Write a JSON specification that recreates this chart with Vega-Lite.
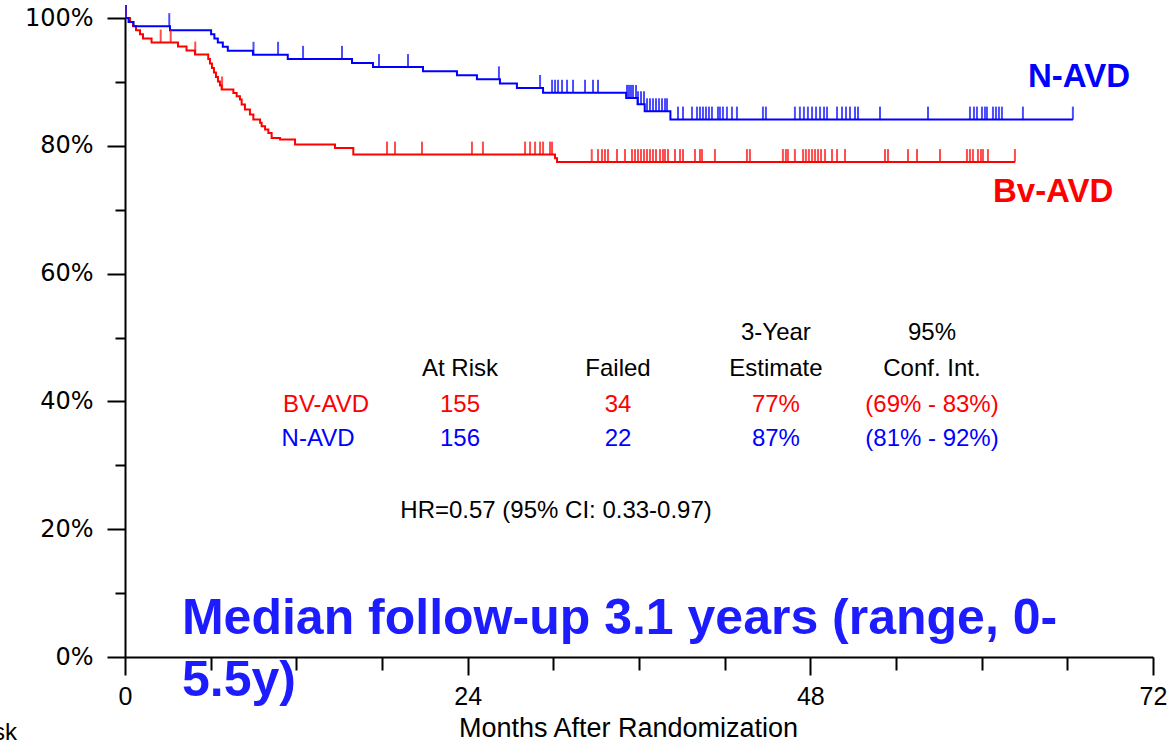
{
  "$schema": "https://vega.github.io/schema/vega-lite/v6.json",
  "width": 1028,
  "height": 639,
  "autosize": {"type": "none"},
  "padding": {"left": 125, "top": 18, "right": 15, "bottom": 98},
  "background": "white",
  "config": {"view": {"stroke": null}, "font": "Liberation Sans"},
  "datasets": {
    "km": [
      {"grp": "BV-AVD", "month": 0, "surv": 1.0},
      {"grp": "BV-AVD", "month": 0.35, "surv": 0.9937},
      {"grp": "BV-AVD", "month": 0.56, "surv": 0.9873},
      {"grp": "BV-AVD", "month": 0.77, "surv": 0.9809},
      {"grp": "BV-AVD", "month": 1.05, "surv": 0.9745},
      {"grp": "BV-AVD", "month": 1.26, "surv": 0.9681},
      {"grp": "BV-AVD", "month": 1.86, "surv": 0.9616},
      {"grp": "BV-AVD", "month": 3.71, "surv": 0.9554},
      {"grp": "BV-AVD", "month": 4.31, "surv": 0.9491},
      {"grp": "BV-AVD", "month": 4.9, "surv": 0.9428},
      {"grp": "BV-AVD", "month": 5.83, "surv": 0.9358},
      {"grp": "BV-AVD", "month": 5.95, "surv": 0.9287},
      {"grp": "BV-AVD", "month": 6.09, "surv": 0.9217},
      {"grp": "BV-AVD", "month": 6.23, "surv": 0.9146},
      {"grp": "BV-AVD", "month": 6.37, "surv": 0.9076},
      {"grp": "BV-AVD", "month": 6.51, "surv": 0.9005},
      {"grp": "BV-AVD", "month": 6.65, "surv": 0.8943},
      {"grp": "BV-AVD", "month": 6.77, "surv": 0.888},
      {"grp": "BV-AVD", "month": 7.59, "surv": 0.8828},
      {"grp": "BV-AVD", "month": 7.82, "surv": 0.8775},
      {"grp": "BV-AVD", "month": 8.05, "surv": 0.8724},
      {"grp": "BV-AVD", "month": 8.17, "surv": 0.8645},
      {"grp": "BV-AVD", "month": 8.4, "surv": 0.8567},
      {"grp": "BV-AVD", "month": 8.75, "surv": 0.8489},
      {"grp": "BV-AVD", "month": 8.99, "surv": 0.841},
      {"grp": "BV-AVD", "month": 9.46, "surv": 0.8359},
      {"grp": "BV-AVD", "month": 9.57, "surv": 0.8305},
      {"grp": "BV-AVD", "month": 9.81, "surv": 0.8254},
      {"grp": "BV-AVD", "month": 10.04, "surv": 0.8202},
      {"grp": "BV-AVD", "month": 10.27, "surv": 0.8124},
      {"grp": "BV-AVD", "month": 10.86, "surv": 0.8097},
      {"grp": "BV-AVD", "month": 11.91, "surv": 0.8019},
      {"grp": "BV-AVD", "month": 14.71, "surv": 0.7967},
      {"grp": "BV-AVD", "month": 15.99, "surv": 0.7862},
      {"grp": "BV-AVD", "month": 30.12, "surv": 0.7807},
      {"grp": "BV-AVD", "month": 30.26, "surv": 0.7745},
      {"grp": "BV-AVD", "month": 62.33, "surv": 0.7745},
      {"grp": "N-AVD", "month": 0, "surv": 1.0},
      {"grp": "N-AVD", "month": 0.25, "surv": 0.9936},
      {"grp": "N-AVD", "month": 0.6, "surv": 0.9872},
      {"grp": "N-AVD", "month": 3.15, "surv": 0.9808},
      {"grp": "N-AVD", "month": 6.03, "surv": 0.9744},
      {"grp": "N-AVD", "month": 6.26, "surv": 0.968},
      {"grp": "N-AVD", "month": 6.5, "surv": 0.9616},
      {"grp": "N-AVD", "month": 6.85, "surv": 0.9552},
      {"grp": "N-AVD", "month": 7.2, "surv": 0.9488},
      {"grp": "N-AVD", "month": 8.96, "surv": 0.9424},
      {"grp": "N-AVD", "month": 11.4, "surv": 0.936},
      {"grp": "N-AVD", "month": 15.9, "surv": 0.9296},
      {"grp": "N-AVD", "month": 17.37, "surv": 0.9232},
      {"grp": "N-AVD", "month": 20.87, "surv": 0.9168},
      {"grp": "N-AVD", "month": 23.25, "surv": 0.9104},
      {"grp": "N-AVD", "month": 24.65, "surv": 0.904},
      {"grp": "N-AVD", "month": 26.26, "surv": 0.8976},
      {"grp": "N-AVD", "month": 27.45, "surv": 0.8905},
      {"grp": "N-AVD", "month": 29.28, "surv": 0.883},
      {"grp": "N-AVD", "month": 35.1, "surv": 0.875},
      {"grp": "N-AVD", "month": 35.9, "surv": 0.865},
      {"grp": "N-AVD", "month": 36.4, "surv": 0.854},
      {"grp": "N-AVD", "month": 38.2, "surv": 0.841},
      {"grp": "N-AVD", "month": 66.39, "surv": 0.841}
    ],
    "cens": [
      {"grp": "BV-AVD", "month": 0.07, "surv": 1.0},
      {"grp": "BV-AVD", "month": 2.5, "surv": 0.9616},
      {"grp": "BV-AVD", "month": 3.2, "surv": 0.9616},
      {"grp": "BV-AVD", "month": 4.92, "surv": 0.9428},
      {"grp": "BV-AVD", "month": 6.8, "surv": 0.888},
      {"grp": "BV-AVD", "month": 18.35, "surv": 0.7862},
      {"grp": "BV-AVD", "month": 18.91, "surv": 0.7862},
      {"grp": "BV-AVD", "month": 20.8, "surv": 0.7862},
      {"grp": "BV-AVD", "month": 24.3, "surv": 0.7862},
      {"grp": "BV-AVD", "month": 25.07, "surv": 0.7862},
      {"grp": "BV-AVD", "month": 28.02, "surv": 0.7862},
      {"grp": "BV-AVD", "month": 28.37, "surv": 0.7862},
      {"grp": "BV-AVD", "month": 28.72, "surv": 0.7862},
      {"grp": "BV-AVD", "month": 29.07, "surv": 0.7862},
      {"grp": "BV-AVD", "month": 29.28, "surv": 0.7862},
      {"grp": "BV-AVD", "month": 29.77, "surv": 0.7862},
      {"grp": "BV-AVD", "month": 29.91, "surv": 0.7862},
      {"grp": "BV-AVD", "month": 32.69, "surv": 0.7745},
      {"grp": "BV-AVD", "month": 33.13, "surv": 0.7745},
      {"grp": "BV-AVD", "month": 33.41, "surv": 0.7745},
      {"grp": "BV-AVD", "month": 33.62, "surv": 0.7745},
      {"grp": "BV-AVD", "month": 33.83, "surv": 0.7745},
      {"grp": "BV-AVD", "month": 34.46, "surv": 0.7745},
      {"grp": "BV-AVD", "month": 35.02, "surv": 0.7745},
      {"grp": "BV-AVD", "month": 35.51, "surv": 0.7745},
      {"grp": "BV-AVD", "month": 35.72, "surv": 0.7745},
      {"grp": "BV-AVD", "month": 35.93, "surv": 0.7745},
      {"grp": "BV-AVD", "month": 36.14, "surv": 0.7745},
      {"grp": "BV-AVD", "month": 36.35, "surv": 0.7745},
      {"grp": "BV-AVD", "month": 36.56, "surv": 0.7745},
      {"grp": "BV-AVD", "month": 36.77, "surv": 0.7745},
      {"grp": "BV-AVD", "month": 36.98, "surv": 0.7745},
      {"grp": "BV-AVD", "month": 37.19, "surv": 0.7745},
      {"grp": "BV-AVD", "month": 37.47, "surv": 0.7745},
      {"grp": "BV-AVD", "month": 37.68, "surv": 0.7745},
      {"grp": "BV-AVD", "month": 37.82, "surv": 0.7745},
      {"grp": "BV-AVD", "month": 38.03, "surv": 0.7745},
      {"grp": "BV-AVD", "month": 38.52, "surv": 0.7745},
      {"grp": "BV-AVD", "month": 38.87, "surv": 0.7745},
      {"grp": "BV-AVD", "month": 39.08, "surv": 0.7745},
      {"grp": "BV-AVD", "month": 39.92, "surv": 0.7745},
      {"grp": "BV-AVD", "month": 40.27, "surv": 0.7745},
      {"grp": "BV-AVD", "month": 40.41, "surv": 0.7745},
      {"grp": "BV-AVD", "month": 41.32, "surv": 0.7745},
      {"grp": "BV-AVD", "month": 43.56, "surv": 0.7745},
      {"grp": "BV-AVD", "month": 43.77, "surv": 0.7745},
      {"grp": "BV-AVD", "month": 46.08, "surv": 0.7745},
      {"grp": "BV-AVD", "month": 46.29, "surv": 0.7745},
      {"grp": "BV-AVD", "month": 46.43, "surv": 0.7745},
      {"grp": "BV-AVD", "month": 46.92, "surv": 0.7745},
      {"grp": "BV-AVD", "month": 47.49, "surv": 0.7745},
      {"grp": "BV-AVD", "month": 47.69, "surv": 0.7745},
      {"grp": "BV-AVD", "month": 47.9, "surv": 0.7745},
      {"grp": "BV-AVD", "month": 48.12, "surv": 0.7745},
      {"grp": "BV-AVD", "month": 48.33, "surv": 0.7745},
      {"grp": "BV-AVD", "month": 48.54, "surv": 0.7745},
      {"grp": "BV-AVD", "month": 48.75, "surv": 0.7745},
      {"grp": "BV-AVD", "month": 49.03, "surv": 0.7745},
      {"grp": "BV-AVD", "month": 49.52, "surv": 0.7745},
      {"grp": "BV-AVD", "month": 49.87, "surv": 0.7745},
      {"grp": "BV-AVD", "month": 50.43, "surv": 0.7745},
      {"grp": "BV-AVD", "month": 53.23, "surv": 0.7745},
      {"grp": "BV-AVD", "month": 53.44, "surv": 0.7745},
      {"grp": "BV-AVD", "month": 54.84, "surv": 0.7745},
      {"grp": "BV-AVD", "month": 55.47, "surv": 0.7745},
      {"grp": "BV-AVD", "month": 57.08, "surv": 0.7745},
      {"grp": "BV-AVD", "month": 58.97, "surv": 0.7745},
      {"grp": "BV-AVD", "month": 59.18, "surv": 0.7745},
      {"grp": "BV-AVD", "month": 59.39, "surv": 0.7745},
      {"grp": "BV-AVD", "month": 59.74, "surv": 0.7745},
      {"grp": "BV-AVD", "month": 59.95, "surv": 0.7745},
      {"grp": "BV-AVD", "month": 60.09, "surv": 0.7745},
      {"grp": "BV-AVD", "month": 60.44, "surv": 0.7745},
      {"grp": "BV-AVD", "month": 62.33, "surv": 0.7745},
      {"grp": "N-AVD", "month": 0.07, "surv": 1.0},
      {"grp": "N-AVD", "month": 3.1, "surv": 0.9872},
      {"grp": "N-AVD", "month": 9.0, "surv": 0.9424},
      {"grp": "N-AVD", "month": 10.72, "surv": 0.9424},
      {"grp": "N-AVD", "month": 12.47, "surv": 0.936},
      {"grp": "N-AVD", "month": 15.2, "surv": 0.936},
      {"grp": "N-AVD", "month": 17.79, "surv": 0.9232},
      {"grp": "N-AVD", "month": 19.82, "surv": 0.9232},
      {"grp": "N-AVD", "month": 26.19, "surv": 0.904},
      {"grp": "N-AVD", "month": 29.07, "surv": 0.8905},
      {"grp": "N-AVD", "month": 29.91, "surv": 0.883},
      {"grp": "N-AVD", "month": 30.12, "surv": 0.883},
      {"grp": "N-AVD", "month": 30.33, "surv": 0.883},
      {"grp": "N-AVD", "month": 30.61, "surv": 0.883},
      {"grp": "N-AVD", "month": 30.96, "surv": 0.883},
      {"grp": "N-AVD", "month": 31.38, "surv": 0.883},
      {"grp": "N-AVD", "month": 32.22, "surv": 0.883},
      {"grp": "N-AVD", "month": 32.78, "surv": 0.883},
      {"grp": "N-AVD", "month": 33.13, "surv": 0.883},
      {"grp": "N-AVD", "month": 35.16, "surv": 0.875},
      {"grp": "N-AVD", "month": 35.3, "surv": 0.875},
      {"grp": "N-AVD", "month": 35.44, "surv": 0.875},
      {"grp": "N-AVD", "month": 35.58, "surv": 0.875},
      {"grp": "N-AVD", "month": 35.79, "surv": 0.875},
      {"grp": "N-AVD", "month": 35.93, "surv": 0.865},
      {"grp": "N-AVD", "month": 36.14, "surv": 0.865},
      {"grp": "N-AVD", "month": 36.35, "surv": 0.865},
      {"grp": "N-AVD", "month": 36.56, "surv": 0.854},
      {"grp": "N-AVD", "month": 36.77, "surv": 0.854},
      {"grp": "N-AVD", "month": 36.98, "surv": 0.854},
      {"grp": "N-AVD", "month": 37.19, "surv": 0.854},
      {"grp": "N-AVD", "month": 37.4, "surv": 0.854},
      {"grp": "N-AVD", "month": 37.61, "surv": 0.854},
      {"grp": "N-AVD", "month": 37.82, "surv": 0.854},
      {"grp": "N-AVD", "month": 37.96, "surv": 0.854},
      {"grp": "N-AVD", "month": 38.73, "surv": 0.841},
      {"grp": "N-AVD", "month": 39.08, "surv": 0.841},
      {"grp": "N-AVD", "month": 39.71, "surv": 0.841},
      {"grp": "N-AVD", "month": 40.06, "surv": 0.841},
      {"grp": "N-AVD", "month": 40.27, "surv": 0.841},
      {"grp": "N-AVD", "month": 40.48, "surv": 0.841},
      {"grp": "N-AVD", "month": 40.69, "surv": 0.841},
      {"grp": "N-AVD", "month": 40.9, "surv": 0.841},
      {"grp": "N-AVD", "month": 41.11, "surv": 0.841},
      {"grp": "N-AVD", "month": 41.53, "surv": 0.841},
      {"grp": "N-AVD", "month": 41.67, "surv": 0.841},
      {"grp": "N-AVD", "month": 41.88, "surv": 0.841},
      {"grp": "N-AVD", "month": 42.16, "surv": 0.841},
      {"grp": "N-AVD", "month": 42.51, "surv": 0.841},
      {"grp": "N-AVD", "month": 42.86, "surv": 0.841},
      {"grp": "N-AVD", "month": 44.68, "surv": 0.841},
      {"grp": "N-AVD", "month": 44.89, "surv": 0.841},
      {"grp": "N-AVD", "month": 46.92, "surv": 0.841},
      {"grp": "N-AVD", "month": 47.27, "surv": 0.841},
      {"grp": "N-AVD", "month": 47.55, "surv": 0.841},
      {"grp": "N-AVD", "month": 47.83, "surv": 0.841},
      {"grp": "N-AVD", "month": 48.12, "surv": 0.841},
      {"grp": "N-AVD", "month": 48.4, "surv": 0.841},
      {"grp": "N-AVD", "month": 48.68, "surv": 0.841},
      {"grp": "N-AVD", "month": 48.96, "surv": 0.841},
      {"grp": "N-AVD", "month": 49.17, "surv": 0.841},
      {"grp": "N-AVD", "month": 49.87, "surv": 0.841},
      {"grp": "N-AVD", "month": 50.22, "surv": 0.841},
      {"grp": "N-AVD", "month": 50.5, "surv": 0.841},
      {"grp": "N-AVD", "month": 50.78, "surv": 0.841},
      {"grp": "N-AVD", "month": 51.13, "surv": 0.841},
      {"grp": "N-AVD", "month": 51.34, "surv": 0.841},
      {"grp": "N-AVD", "month": 52.88, "surv": 0.841},
      {"grp": "N-AVD", "month": 56.24, "surv": 0.841},
      {"grp": "N-AVD", "month": 59.18, "surv": 0.841},
      {"grp": "N-AVD", "month": 59.46, "surv": 0.841},
      {"grp": "N-AVD", "month": 59.67, "surv": 0.841},
      {"grp": "N-AVD", "month": 60.02, "surv": 0.841},
      {"grp": "N-AVD", "month": 60.23, "surv": 0.841},
      {"grp": "N-AVD", "month": 60.37, "surv": 0.841},
      {"grp": "N-AVD", "month": 60.79, "surv": 0.841},
      {"grp": "N-AVD", "month": 61.0, "surv": 0.841},
      {"grp": "N-AVD", "month": 61.21, "surv": 0.841},
      {"grp": "N-AVD", "month": 61.42, "surv": 0.841},
      {"grp": "N-AVD", "month": 62.89, "surv": 0.841},
      {"grp": "N-AVD", "month": 66.39, "surv": 0.841}
    ],
    "table": [
      {"grp": "none", "month": 45.59, "surv": 0.5074, "label": "3-Year"},
      {"grp": "none", "month": 56.52, "surv": 0.5074, "label": "95%"},
      {"grp": "none", "month": 23.46, "surv": 0.4511, "label": "At Risk"},
      {"grp": "none", "month": 34.53, "surv": 0.4511, "label": "Failed"},
      {"grp": "none", "month": 45.59, "surv": 0.4511, "label": "Estimate"},
      {"grp": "none", "month": 56.52, "surv": 0.4511, "label": "Conf. Int."},
      {"grp": "BV-AVD", "month": 14.08, "surv": 0.3947, "label": "BV-AVD"},
      {"grp": "BV-AVD", "month": 23.46, "surv": 0.3947, "label": "155"},
      {"grp": "BV-AVD", "month": 34.53, "surv": 0.3947, "label": "34"},
      {"grp": "BV-AVD", "month": 45.59, "surv": 0.3947, "label": "77%"},
      {"grp": "BV-AVD", "month": 56.52, "surv": 0.3947, "label": "(69% - 83%)"},
      {"grp": "N-AVD", "month": 13.52, "surv": 0.3414, "label": "N-AVD"},
      {"grp": "N-AVD", "month": 23.46, "surv": 0.3414, "label": "156"},
      {"grp": "N-AVD", "month": 34.53, "surv": 0.3414, "label": "22"},
      {"grp": "N-AVD", "month": 45.59, "surv": 0.3414, "label": "87%"},
      {"grp": "N-AVD", "month": 56.52, "surv": 0.3414, "label": "(81% - 92%)"},
      {"grp": "none", "month": 30.19, "surv": 0.2287, "label": "HR=0.57 (95% CI: 0.33-0.97)"}
    ],
    "curvelabels": [
      {"grp": "N-AVD", "month": 63.24, "surv": 0.8927, "label": "N-AVD"},
      {"grp": "BV-AVD", "month": 60.79, "surv": 0.7126, "label": "Bv-AVD"}
    ],
    "note": [
      {"month": 3.99, "surv": 0.036, "label": "Median follow-up 3.1 years (range, 0-\n5.5y)"}
    ],
    "risk": [
      {"month": -7.56, "surv": -0.13, "label": "At Risk"}
    ]
  },
  "layer": [
    {
      "data": {"name": "km"},
      "mark": {"type": "line", "interpolate": "step-after", "strokeWidth": 2},
      "encoding": {
        "x": {
          "field": "month", "type": "quantitative",
          "scale": {"domain": [0, 72], "nice": false, "zero": false},
          "axis": {
            "values": [0, 6, 12, 18, 24, 30, 36, 42, 48, 54, 60, 66, 72],
            "labelExpr": "datum.value % 24 === 0 ? datum.label : ''",
            "tickSize": {"condition": {"test": "datum.value % 24 === 0", "value": 18}, "value": 13},
            "tickWidth": 2, "tickColor": "#000000",
            "domainColor": "#000000", "domainWidth": 2,
            "grid": false,
            "labelFont": "Liberation Sans", "labelFontSize": 25, "labelColor": "#000000",
            "labelPadding": 9, "labelFlush": false, "labelOverlap": false,
            "title": "Months After Randomization",
            "titleFont": "Liberation Sans", "titleFontSize": 27, "titleFontWeight": "normal",
            "titleColor": "#000000", "titleX": 503, "titlePadding": 6
          }
        },
        "y": {
          "field": "surv", "type": "quantitative",
          "scale": {"domain": [0, 1], "nice": false, "zero": false},
          "axis": {
            "values": [0, 0.1, 0.2, 0.3, 0.4, 0.5, 0.6, 0.7, 0.8, 0.9, 1.0],
            "format": ".0%",
            "labelExpr": "round(datum.value * 10) % 2 === 0 ? datum.label : ''",
            "tickSize": {"condition": {"test": "round(datum.value * 10) % 2 === 0", "value": 18}, "value": 10},
            "tickWidth": 2, "tickColor": "#000000",
            "domainColor": "#000000", "domainWidth": 2,
            "grid": false,
            "labelFont": "DejaVu Sans", "labelFontSize": 24, "labelColor": "#000000",
            "labelPadding": 14, "labelOverlap": false,
            "title": null
          }
        },
        "color": {
          "field": "grp", "type": "nominal",
          "scale": {"domain": ["N-AVD", "BV-AVD", "none"], "range": ["#0000ff", "#ff0000", "#000000"]},
          "legend": null
        }
      }
    },
    {
      "data": {"name": "cens"},
      "mark": {"type": "tick", "orient": "vertical", "size": 13, "thickness": 2, "yOffset": -6.5},
      "encoding": {
        "x": {"field": "month", "type": "quantitative"},
        "y": {"field": "surv", "type": "quantitative"},
        "color": {"field": "grp", "type": "nominal", "legend": null}
      }
    },
    {
      "data": {"name": "table"},
      "mark": {"type": "text", "align": "center", "baseline": "middle", "font": "Liberation Sans", "fontSize": 24},
      "encoding": {
        "x": {"field": "month", "type": "quantitative"},
        "y": {"field": "surv", "type": "quantitative"},
        "text": {"field": "label"},
        "color": {"field": "grp", "type": "nominal", "legend": null}
      }
    },
    {
      "data": {"name": "curvelabels"},
      "mark": {"type": "text", "align": "left", "baseline": "alphabetic", "font": "Liberation Sans", "fontSize": 33, "fontWeight": "bold"},
      "encoding": {
        "x": {"field": "month", "type": "quantitative"},
        "y": {"field": "surv", "type": "quantitative"},
        "text": {"field": "label"},
        "color": {"field": "grp", "type": "nominal", "legend": null}
      }
    },
    {
      "data": {"name": "risk"},
      "mark": {"type": "text", "align": "right", "baseline": "alphabetic", "font": "Liberation Sans", "fontSize": 24, "color": "#000000"},
      "encoding": {
        "x": {"field": "month", "type": "quantitative"},
        "y": {"field": "surv", "type": "quantitative"},
        "text": {"field": "label"}
      }
    },
    {
      "data": {"name": "note"},
      "mark": {"type": "text", "align": "left", "baseline": "alphabetic", "font": "Liberation Sans", "fontSize": 50, "fontWeight": "bold", "color": "#1c1cff", "lineBreak": "\n", "lineHeight": 62},
      "encoding": {
        "x": {"field": "month", "type": "quantitative"},
        "y": {"field": "surv", "type": "quantitative"},
        "text": {"field": "label"}
      }
    }
  ]
}
